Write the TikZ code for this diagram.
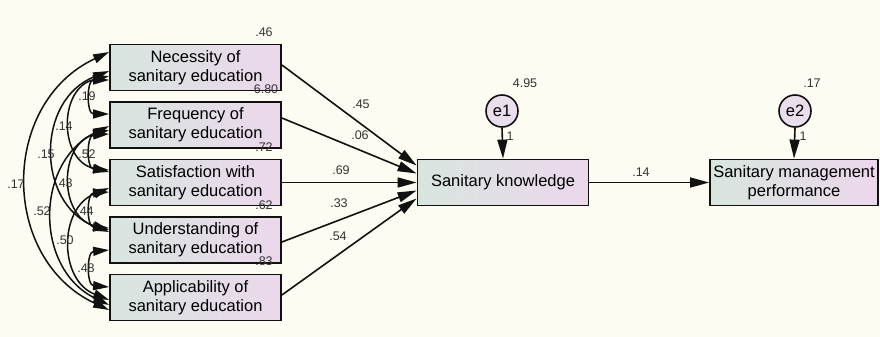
\documentclass[tikz,border=0pt]{standalone}
\usepackage{fontspec}
\setmainfont{Liberation Sans}
\usetikzlibrary{arrows.meta,calc}
\definecolor{bgc}{HTML}{FCFCF2}
\definecolor{boxl}{HTML}{D8E5DF}
\definecolor{boxr}{HTML}{ECD8EC}
\definecolor{circf}{HTML}{EADDEC}
\definecolor{linec}{HTML}{111111}
\tikzset{
  var/.style={draw=linec,line width=1.8pt,shading=axis,left color=boxl,right color=boxr,
    minimum width=171pt,minimum height=46pt,inner sep=1pt,align=center,
    font=\fontsize{16.5}{19}\selectfont},
  err/.style={circle,draw=linec,line width=1.6pt,fill=circf,minimum size=32pt,inner sep=0pt,
    font=\fontsize{16.5}{19}\selectfont},
  lab/.style={inner sep=0pt,font=\fontsize{12.5}{14}\selectfont,text=black!80},
  path/.style={line width=1.6pt,draw=linec,-{Triangle[length=19pt,width=10pt]}},
  cov/.style={line width=1.5pt,draw=linec,{Triangle[length=16pt,width=9pt]}-{Triangle[length=16pt,width=9pt]}}
}
\begin{document}
\begin{tikzpicture}[x=1pt,y=-1pt]
\fill[bgc] (0,0) rectangle (880,337);
\useasboundingbox (0,0) rectangle (880,337);
% boxes
\node[var] (n1) at (195.5,67.5) {Necessity of\\sanitary education};
\node[var] (n2) at (195.5,125) {Frequency of\\sanitary education};
\node[var] (n3) at (195.5,182.5) {Satisfaction with\\sanitary education};
\node[var] (n4) at (195.5,240) {Understanding of\\sanitary education};
\node[var] (n5) at (195.5,297.5) {Applicability of\\sanitary education};
\node[var] (sk) at (503,182.5) {Sanitary knowledge};
\node[var,minimum width=168pt] (sm) at (794,182.5) {Sanitary management\\performance};
\node[err] (e1) at (502,111) {e1};
\node[err] (e2) at (795,111) {e2};
% paths
\draw[path] ($(n1.east)+(0,-2.5)$) -- ($(sk.west)+(0,-17)$);
\draw[path] ($(n2.east)+(0,-7)$) -- ($(sk.west)+(0,-9)$);
\draw[path] (n3.east) -- (sk.west);
\draw[path] ($(n4.east)+(0,2)$) -- ($(sk.west)+(0,8)$);
\draw[path] ($(n5.east)+(0,-2.5)$) -- ($(sk.west)+(0,16)$);
\draw[path] (sk.east) -- (sm.west);
\draw[path] (e1.south) -- (sk.north);
\draw[path] (e2.south) -- (sm.north);
% covariances
\draw[cov] ($(n1.west)+(0,12.5)$) .. controls +(-22.7,0) and +(-22.7,0) .. ($(n2.west)+(0,-11)$);
\draw[cov] ($(n1.west)+(0,8.5)$) .. controls +(-50.7,11.9) and +(-50.7,-11.9) .. ($(n3.west)+(0,-10.5)$);
\draw[cov] ($(n1.west)+(0,3.5)$) .. controls +(-73.4,28.6) and +(-73.4,-28.6) .. ($(n4.west)+(0,-8)$);
\draw[cov] ($(n1.west)+(0,-15.5)$) .. controls +(-109.3,51.3) and +(-109.3,-51.3) .. ($(n5.west)+(0,12.5)$);
\draw[cov] ($(n2.west)+(0,9)$) .. controls +(-22.7,1.3) and +(-22.7,-1.3) .. ($(n3.west)+(0,-12.5)$);
\draw[cov] ($(n2.west)+(0,5)$) .. controls +(-50.6,14.1) and +(-50.6,-14.1) .. ($(n4.west)+(0,-10)$);
\draw[cov] ($(n2.west)+(0,1)$) .. controls +(-74.6,36.3) and +(-74.6,-36.3) .. ($(n5.west)+(0,7.5)$);
\draw[cov] ($(n3.west)+(0,9.5)$) .. controls +(-22.7,1.3) and +(-22.7,-1.3) .. ($(n4.west)+(0,-12)$);
\draw[cov] ($(n3.west)+(0,5.5)$) .. controls +(-50.6,20.2) and +(-50.6,-20.2) .. ($(n5.west)+(0,2.5)$);
\draw[cov] ($(n4.west)+(0,10)$) .. controls +(-22.6,1.9) and +(-22.6,-1.9) .. ($(n5.west)+(0,-10.5)$);
% labels
\node[lab] (v1) at (264,32) {.46};
\node[lab] (v2) at (266,89) {6.80};
\node[lab] (v3) at (264,147) {.72};
\node[lab] (v4) at (264,205) {.62};
\node[lab] (v5) at (264,261) {.83};
\node[lab] (p1) at (361,104) {.45};
\node[lab] (p2) at (360,135) {.06};
\node[lab] (p3) at (341,170) {.69};
\node[lab] (p4) at (339,203) {.33};
\node[lab] (p5) at (338,236) {.54};
\node[lab] (p6) at (641,172) {.14};
\node[lab] (ve1) at (525,83) {4.95};
\node[lab] (ve2) at (812,83) {.17};
\node[lab] (w1) at (510,136) {1};
\node[lab] (w2) at (803,136) {1};
\node[lab] (c12) at (87,96) {.19};
\node[lab] (c13) at (64,126) {.14};
\node[lab] (c14) at (46,154) {.15};
\node[lab] (c15) at (16,184) {.17};
\node[lab] (c23) at (87,154) {.52};
\node[lab] (c24) at (64,183) {.43};
\node[lab] (c25) at (42,211) {.52};
\node[lab] (c34) at (85,211) {.44};
\node[lab] (c35) at (65,240) {.50};
\node[lab] (c45) at (86,268) {.48};
\end{tikzpicture}
\end{document}
